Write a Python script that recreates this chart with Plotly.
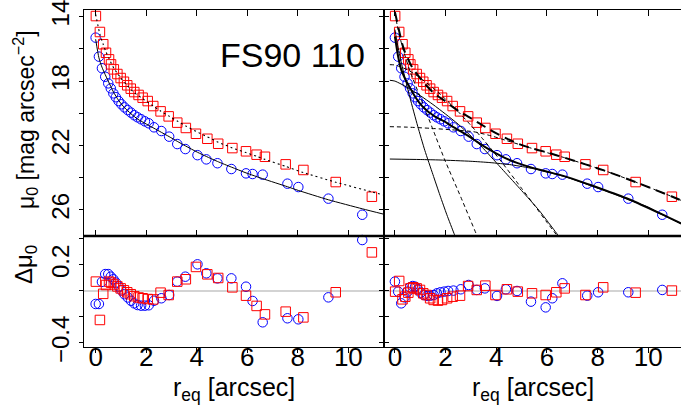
import plotly.graph_objects as go

# ---------------- data ----------------
blue_r = [0.0, 0.13, 0.25, 0.38, 0.5, 0.6, 0.7, 0.8, 0.91, 1.02, 1.14, 1.27, 1.4, 1.53, 1.66, 1.8,
          1.95, 2.1, 2.31, 2.6, 2.91, 3.23, 3.55, 4.03, 4.38, 4.82, 5.37, 5.95, 6.21, 6.61, 7.59,
          8.02, 9.21, 10.55]
blue_mu = [15.30, 16.48, 17.2, 17.73, 18.14, 18.45, 18.76, 19.0, 19.24, 19.44, 19.63, 19.8, 19.96,
           20.12, 20.25, 20.37, 20.5, 20.62, 20.87, 21.1, 21.45, 21.91, 22.22, 22.6, 22.86, 23.1,
           23.46, 23.73, 23.77, 23.81, 24.37, 24.58, 25.3, 26.3]
blue_res_left = [-0.10, -0.10, 0.07, 0.13, 0.13, 0.11, 0.09, 0.065, 0.035, 0.005, -0.025, -0.05,
                 -0.075, -0.095, -0.108, -0.113, -0.113, -0.11, -0.075, -0.056, -0.031, 0.072, 0.11,
                 0.205, 0.136, 0.097, 0.097, 0.033, -0.077, -0.241, -0.21, -0.218, -0.049, 0.392]
blue_res_right = [0.072, -0.005, -0.095, -0.049, -0.005, 0.028, 0.038, 0.033, 0.013, -0.013, -0.031,
                  -0.038, -0.036, -0.031, -0.018, -0.01, -0.005, 0.0, 0.003, 0.013, 0.046, 0.008,
                  0.02, -0.038, 0.013, 0.0, -0.082, -0.126, -0.056, 0.059, -0.036, -0.01, -0.01, 0.008]

red_r = [0.01, 0.17, 0.3, 0.41, 0.53, 0.61, 0.72, 0.86, 0.99, 1.12, 1.25, 1.39, 1.53, 1.70, 1.86,
         2.06, 2.28, 2.57, 2.89, 3.23, 3.57, 3.97, 4.42, 4.85, 5.41, 5.95, 6.37, 6.70, 7.52, 8.22,
         9.5, 10.93]
red_mu = [13.96, 14.95, 15.71, 16.24, 16.65, 16.96, 17.27, 17.56, 17.81, 18.04, 18.26, 18.47, 18.68,
          18.86, 19.03, 19.24, 19.55, 19.88, 20.19, 20.58, 20.91, 21.27, 21.58, 21.89, 22.16, 22.36,
          22.57, 22.7, 23.17, 23.52, 24.27, 25.18]
red_res_left = [0.072, -0.223, -0.022, 0.046, 0.072, 0.064, 0.05, 0.035, 0.02, 0.005, -0.01, -0.025,
                -0.04, -0.05, -0.056, -0.062, -0.065, -0.013, -0.031, 0.072, 0.09, 0.185, 0.128, 0.1,
                0.028, -0.036, -0.115, -0.18, -0.159, -0.203, -0.01, 0.297]
red_res_right = [-0.005, 0.077, -0.064, -0.044, -0.013, 0.02, 0.028, 0.02, 0.008, -0.018, -0.031,
                 -0.056, -0.069, -0.074, -0.069, -0.056, -0.044, -0.036, 0.038, 0.008, 0.041, -0.031,
                 0.013, -0.005, -0.018, -0.031, -0.01, 0.02, -0.031, 0.028, -0.013, 0.003]

# single-component fits (left panel)
fitL_blue_r = [0.0, 0.13, 0.25, 0.38, 0.5, 0.7, 0.91, 1.14, 1.4, 1.66, 1.95, 2.31, 2.6, 2.91, 3.23,
               3.55, 4.03, 4.38, 4.82, 5.37, 5.95, 6.61, 7.59, 8.02, 9.21, 10.55, 11.41]
fitL_blue_mu = [15.4, 16.55, 17.13, 17.6, 18.0, 18.66, 19.2, 19.65, 20.03, 20.36, 20.62, 20.93, 21.18,
                21.45, 21.74, 22.02, 22.42, 22.68, 22.99, 23.34, 23.7, 24.06, 24.56, 24.79, 25.37,
                25.93, 26.27]
fitL_red_r = [0.0, 0.17, 0.3, 0.41, 0.53, 0.72, 0.99, 1.25, 1.53, 1.86, 2.28, 2.57, 2.89, 3.23, 3.57,
              3.97, 4.42, 4.85, 5.41, 5.95, 6.37, 6.7, 7.52, 8.22, 9.5, 10.93, 11.41]
fitL_red_mu = [13.85, 15.1, 15.72, 16.19, 16.6, 17.2, 17.79, 18.27, 18.72, 19.09, 19.55, 19.86, 20.16,
               20.48, 20.79, 21.12, 21.46, 21.79, 22.15, 22.44, 22.67, 22.86, 23.3, 23.68, 24.28,
               24.88, 25.08]

# multi-component fits (right panel): totals
fitR_blue_r = [0.0, 0.13, 0.25, 0.38, 0.5, 0.6, 0.7, 0.8, 0.91, 1.02, 1.14, 1.27, 1.4, 1.53, 1.66,
               1.8, 1.95, 2.31, 2.6, 2.91, 3.23, 3.55, 4.03, 4.38, 4.82, 5.37, 5.95, 6.61, 7.59, 8.02,
               9.21, 10.55, 11.3]
fitR_blue_mu = [15.23, 16.49, 17.29, 17.78, 18.15, 18.42, 18.72, 18.97, 19.23, 19.45, 19.66, 19.84,
                20.0, 20.15, 20.27, 20.38, 20.5, 20.86, 21.12, 21.42, 21.76, 22.08, 22.52, 22.8,
                23.08, 23.36, 23.6, 23.87, 24.38, 24.62, 25.32, 26.28, 26.85]
fitR_red_r = [0.0, 0.17, 0.3, 0.41, 0.53, 0.61, 0.72, 0.86, 0.99, 1.12, 1.25, 1.39, 1.53, 1.70, 1.86,
              2.06, 2.28, 2.57, 2.89, 3.23, 3.57, 3.97, 4.42, 4.85, 5.41, 5.95, 6.37, 6.70, 7.52,
              8.22, 9.5, 10.93, 11.3]
fitR_red_mu = [13.7, 14.9, 15.75, 16.27, 16.66, 16.94, 17.24, 17.54, 17.8, 18.06, 18.29, 18.52, 18.74,
               18.94, 19.11, 19.32, 19.6, 19.92, 20.2, 20.53, 20.85, 21.22, 21.57, 21.88, 22.18, 22.4,
               22.6, 22.76, 23.17, 23.53, 24.27, 25.17, 25.41]

# components (right panel)
compB_bulge_r = [0.0, 0.1, 0.26, 0.59, 0.9, 1.18, 1.5, 1.78, 2.05, 2.33, 2.39]
compB_bulge_mu = [14.8, 15.7, 16.9, 19.0, 20.8, 22.3, 23.8, 25.1, 26.3, 27.45, 27.7]
compB_disk_r = [-0.2, 0.0, 0.5, 1.0, 1.5, 2.0, 2.5, 2.96, 3.5, 4.28, 5.0, 5.7, 6.38, 6.5]
compB_disk_mu = [17.95, 18.0, 18.4, 18.9, 19.45, 20.05, 20.68, 21.35, 22.2, 23.55, 24.8, 26.05, 27.45, 27.7]
compB_flat_r = [-0.2, 1.0, 1.78, 3.0, 3.75, 4.6, 5.46, 6.2, 6.8, 7.59, 8.5, 9.21, 10.0, 10.55, 11.3]
compB_flat_mu = [22.84, 22.87, 22.9, 22.98, 23.06, 23.2, 23.44, 23.72, 23.98, 24.42, 24.92, 25.36,
                 25.83, 26.3, 26.86]
compR_bulge_r = [0.0, 0.1, 0.3, 0.6, 1.05, 1.5, 1.97, 2.6, 3.2, 3.27]
compR_bulge_mu = [13.75, 14.6, 15.9, 17.4, 19.2, 21.0, 22.9, 25.2, 27.45, 27.7]
compR_disk_r = [-0.2, 0.0, 0.5, 1.0, 1.5, 2.0, 2.5, 3.0, 3.5, 4.15, 5.0, 5.5, 5.99, 6.45]
compR_disk_mu = [16.98, 17.0, 17.3, 17.8, 18.42, 19.12, 19.9, 20.75, 21.65, 22.9, 24.66, 25.7, 26.75, 27.7]
compR_flat_r = [-0.2, 0.5, 1.38, 2.2, 3.09, 3.8, 4.42, 5.0, 5.41, 5.95, 6.7, 7.52, 8.22, 9.5, 10.93, 11.3]
compR_flat_mu = [20.83, 20.86, 20.93, 21.02, 21.14, 21.4, 21.7, 21.98, 22.18, 22.42, 22.76, 23.17,
                 23.53, 24.27, 25.17, 25.41]

x_ticks = [0, 2, 4, 6, 8, 10]
mu_ticks = [14, 18, 22, 26]
mu_minor = [16, 20, 24]
res_ticks = [-0.4, 0.2]
res_ticktext = ['\u22120.4', '0.2']
res_minor = [-0.2, 0.0, 0.4]
label_name = 'FS90 110'

# ---------------- figure ----------------
BLUE = '#0000FF'
RED = '#FF0000'
FONT = 'Liberation Sans, Arial, Helvetica, sans-serif'
XS = 300 / 597      # split between left and right panels
YS = 111 / 337      # split between top and bottom panels

fig = go.Figure()


def pts(x, y, xa, ya, kind):
    if kind == 'b':
        m = dict(symbol='circle-open', size=9.5, color=BLUE, line=dict(width=1, color=BLUE))
    else:
        m = dict(symbol='square-open', size=9.5, color=RED, line=dict(width=1, color=RED))
    fig.add_trace(go.Scatter(x=x, y=y, xaxis=xa, yaxis=ya, mode='markers', marker=m,
                             cliponaxis=False, hoverinfo='skip', showlegend=False))


def curve(x, y, xa, ya, width, dash):
    fig.add_trace(go.Scatter(x=x, y=y, xaxis=xa, yaxis=ya, mode='lines',
                             line=dict(color='black', width=width, dash=dash, shape='spline',
                                       smoothing=0.6),
                             hoverinfo='skip', showlegend=False))


# top-left
pts(blue_r, blue_mu, 'x', 'y', 'b')
pts(red_r, red_mu, 'x', 'y', 'r')
curve(fitL_blue_r, fitL_blue_mu, 'x', 'y', 1, 'solid')
curve(fitL_red_r, fitL_red_mu, 'x', 'y', 1.1, '2px,3px')

# top-right
pts(blue_r, blue_mu, 'x2', 'y2', 'b')
pts(red_r, red_mu, 'x2', 'y2', 'r')
curve(compB_bulge_r, compB_bulge_mu, 'x2', 'y2', 1, 'solid')
curve(compB_disk_r, compB_disk_mu, 'x2', 'y2', 1, 'solid')
curve(compB_flat_r, compB_flat_mu, 'x2', 'y2', 1, 'solid')
curve(compR_bulge_r, compR_bulge_mu, 'x2', 'y2', 1, '4px,3px')
curve(compR_disk_r, compR_disk_mu, 'x2', 'y2', 1, '4px,3px')
curve(compR_flat_r, compR_flat_mu, 'x2', 'y2', 1, '4px,3px')
curve(fitR_blue_r, fitR_blue_mu, 'x2', 'y2', 2, 'solid')
curve(fitR_red_r, fitR_red_mu, 'x2', 'y2', 2, '10px,6px')

# residuals
pts(blue_r, blue_res_left, 'x3', 'y3', 'b')
pts(red_r, red_res_left, 'x3', 'y3', 'r')
pts(blue_r, blue_res_right, 'x4', 'y4', 'b')
pts(red_r, red_res_right, 'x4', 'y4', 'r')

base = dict(showgrid=False, zeroline=False, showline=True, linecolor='black', linewidth=1.3,
            tickcolor='black', tickwidth=1, automargin=False, ticklabeloverflow='allow',
            tickfont=dict(family=FONT, size=26, color='black'))

XL = [-0.46, 11.41]
XR = [-0.43, 11.29]
YMU = [27.62, 13.584]
YRES = [-0.431, 0.423]


def minor(vals, ticks, ln):
    return dict(tickvals=vals, ticks=ticks, ticklen=ln, tickcolor='black', tickwidth=1, showgrid=False)


fig.update_layout(
    width=681, height=407,
    margin=dict(l=84, r=0, t=10, b=60, autoexpand=False),
    paper_bgcolor='white', plot_bgcolor='white',
    showlegend=False,
    font=dict(family=FONT, color='black'),
    xaxis=dict(base, domain=[0, XS], range=XL, anchor='y', tickvals=x_ticks, showticklabels=False,
               ticks='inside', ticklen=6, mirror='ticks'),
    yaxis=dict(base, domain=[YS, 1], range=YMU, anchor='x', tickvals=mu_ticks,
               ticks='outside', ticklen=4, mirror='ticks', tickangle=-90,
               minor=minor(mu_minor, 'outside', 4),
               tickfont=dict(family=FONT, size=24, color='black')),
    xaxis2=dict(base, domain=[XS, 1], range=XR, anchor='y2', tickvals=x_ticks, showticklabels=False,
                ticks='inside', ticklen=6, mirror='ticks'),
    yaxis2=dict(base, domain=[YS, 1], range=YMU, anchor='x2', tickvals=mu_ticks + mu_minor,
                showticklabels=False, ticks='outside', ticklen=4, mirror=False),
    yaxis5=dict(base, range=YMU, overlaying='y2', anchor='x2', side='right',
                tickvals=mu_ticks + mu_minor,
                showticklabels=False, ticks='inside', ticklen=4, showline=False),
    xaxis3=dict(base, domain=[0, XS], range=XL, anchor='y3', tickvals=x_ticks,
                ticks='outside', ticklen=5, mirror=True, ticklabelstandoff=-18),
    yaxis3=dict(base, domain=[0, YS], range=YRES, anchor='x3', tickvals=res_ticks,
                ticktext=res_ticktext, ticks='outside', ticklen=4, mirror='ticks', tickangle=-90,
                minor=minor(res_minor, 'outside', 4),
                tickfont=dict(family=FONT, size=24, color='black')),
    xaxis4=dict(base, domain=[XS, 1], range=XR, anchor='y4', tickvals=x_ticks,
                ticks='outside', ticklen=5, mirror=True, ticklabelstandoff=-18),
    yaxis4=dict(base, domain=[0, YS], range=YRES, anchor='x4', tickvals=res_ticks + res_minor,
                showticklabels=False, ticks='outside', ticklen=4, mirror=False),
    yaxis6=dict(base, range=YRES, overlaying='y4', anchor='x4', side='right',
                tickvals=res_ticks + res_minor,
                showticklabels=False, ticks='inside', ticklen=4, showline=False),
)

# zero lines in residual panels
for xa, ya in (('x3', 'y3'), ('x4', 'y4')):
    fig.add_shape(type='line', xref=xa + ' domain', yref=ya, x0=0, x1=1, y0=0, y1=0,
                  line=dict(color='#C4C4C4', width=1.5), layer='below')
# thick boundary between upper and lower panels
fig.add_shape(type='line', xref='paper', yref='paper', x0=0, x1=1, y0=YS, y1=YS,
              line=dict(color='black', width=2.4))

# texts
fig.add_annotation(text=label_name, xref='paper', yref='paper', x=(292 - 84) / 597,
                   y=(347 - 55) / 337, showarrow=False, xanchor='center', yanchor='middle',
                   font=dict(family=FONT, size=34, color='black'))
fig.add_annotation(text='\u03bc<sub>0</sub> [mag arcsec<sup>\u22122</sup>]', xref='paper',
                   yref='paper', x=(25 - 84) / 597, y=(347 - 120) / 337, textangle=-90,
                   showarrow=False, xanchor='center', yanchor='middle',
                   font=dict(family=FONT, size=23, color='black'))
fig.add_annotation(text='\u0394\u03bc<sub>0</sub>', xref='paper', yref='paper',
                   x=(25 - 84) / 597, y=(347 - 265) / 337, textangle=-90, showarrow=False,
                   xanchor='center', yanchor='middle', font=dict(family=FONT, size=24, color='black'))
for cx in (234, 533):
    fig.add_annotation(text='r<sub>eq</sub> [arcsec]', xref='paper', yref='paper',
                       x=(cx - 84) / 597, y=(347 - 389) / 337, showarrow=False,
                       xanchor='center', yanchor='middle',
                       font=dict(family=FONT, size=25, color='black'))

fig.write_html('out.html', config={'displayModeBar': False},
               post_script="document.body.style.margin='0';document.body.style.padding='0';")
